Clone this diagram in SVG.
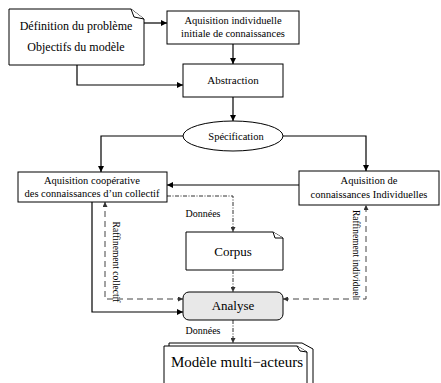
<svg xmlns="http://www.w3.org/2000/svg" width="441" height="383" viewBox="0 0 441 383">
<style>
  .box { fill: #fff; stroke: #000; stroke-width: 1; }
  .t { font-family: "Liberation Serif", "Times New Roman", serif; fill: #000; text-anchor: middle; }
  .s { font-size: 10.5px; }
  .c { stroke: #000; stroke-width: 1.2; fill: none; }
  .dd { stroke: #333; stroke-width: 1; fill: none; stroke-dasharray: 4 1.5 1 1.5; }
  .da { stroke: #444; stroke-width: 1; fill: none; stroke-dasharray: 6 4; }
</style>
<defs>
  <marker id="ah" viewBox="0 0 10 10" refX="10" refY="5" markerWidth="8" markerHeight="6" markerUnits="userSpaceOnUse" orient="auto-start-reverse">
    <path d="M0,0 L10,5 L0,10 Z" fill="#000"/>
  </marker>
  <marker id="ahg" viewBox="0 0 10 10" refX="10" refY="5" markerWidth="7" markerHeight="5" markerUnits="userSpaceOnUse" orient="auto-start-reverse">
    <path d="M0,0 L10,5 L0,10 Z" fill="#333"/>
  </marker>
</defs>

<g id="connectors">
  <path class="c" d="M144,23 H167" marker-end="url(#ah)"/>
  <path class="c" d="M233,44 V64" marker-end="url(#ah)"/>
  <path class="c" d="M77,65 V85 H183" marker-end="url(#ah)"/>
  <path class="c" d="M233,97 V121" marker-end="url(#ah)"/>
  <path class="c" d="M183,136 H101 V172" marker-end="url(#ah)"/>
  <path class="c" d="M283,136 H366 V171" marker-end="url(#ah)"/>
  <path class="c" d="M299,185 H167" marker-end="url(#ah)"/>
  <path class="c" d="M92,202 V312 H183" marker-end="url(#ah)"/>
  <path class="dd" d="M167,196 H233 V232" marker-end="url(#ahg)"/>
  <path class="dd" d="M233,270 V292" marker-end="url(#ahg)"/>
  <path class="dd" d="M233,320 V343" marker-end="url(#ahg)"/>
  <path class="da" d="M183,299 H105 V202" marker-start="url(#ahg)" marker-end="url(#ahg)"/>
  <path class="da" d="M283,299 H366 V205" marker-start="url(#ahg)" marker-end="url(#ahg)"/>
  <text class="t" style="font-size:10px" x="203" y="217">Données</text>
  <text class="t" style="font-size:10px" x="203" y="334">Données</text>
  <text class="t" style="font-size:9.5px" transform="translate(113,262) rotate(90)">Raffinement collectif</text>
  <text class="t" style="font-size:9.5px" transform="translate(353,254) rotate(90)">Raffinement individuel</text>
</g>

<g id="definition">
  <path class="box" d="M9,9 H131 L144,19 V65 H9 Z"/>
  <path class="box" d="M131,9 L134,17 L144,19"/>
  <text class="t" style="font-size:12px" x="76" y="30">Définition du problème</text>
  <text class="t" style="font-size:12px" x="76" y="51">Objectifs du modèle</text>
</g>

<g id="aquisition-initiale">
  <rect class="box" x="167" y="11" width="132" height="33"/>
  <text class="t s" x="233" y="24">Aquisition individuelle</text>
  <text class="t s" x="233" y="37">initiale de connaissances</text>
</g>

<g id="abstraction">
  <rect class="box" x="183" y="64" width="100" height="33"/>
  <text class="t" style="font-size:11px" x="233" y="84">Abstraction</text>
</g>

<g id="specification">
  <ellipse class="box" cx="233" cy="136" rx="50" ry="15"/>
  <text class="t s" x="236" y="140">Spécification</text>
</g>

<g id="aquisition-cooperative">
  <rect class="box" x="18" y="172" width="149" height="30"/>
  <text class="t s" x="92" y="184">Aquisition coopérative</text>
  <text class="t s" x="92" y="197">des connaissances d’un collectif</text>
</g>

<g id="aquisition-individuelle">
  <rect class="box" x="299" y="171" width="140" height="34"/>
  <text class="t s" x="369" y="184">Aquisition de</text>
  <text class="t s" x="369" y="198">connaissances Individuelles</text>
</g>

<g id="corpus">
  <path class="box" d="M186,232 H273 L283,238 V270 H186 Z"/>
  <path class="box" d="M273,232 L275,238 L283,238"/>
  <text class="t" style="font-size:13px" x="233" y="256">Corpus</text>
</g>

<g id="analyse">
  <rect x="183" y="292" width="100" height="28" rx="6" fill="#e8e8e8" stroke="#000" stroke-width="1"/>
  <text class="t" style="font-size:13px" x="233" y="310">Analyse</text>
</g>

<g id="modele">
  <path class="box" d="M169,346 V343 H302 L313,349 V383"/>
  <path class="box" d="M164,384 V346 H297 L307,352 V384"/>
  <path class="box" d="M297,346 L300,351 L307,352"/>
  <text class="t" style="font-size:15px" x="237" y="367">Modèle multi−acteurs</text>
</g>
</svg>
